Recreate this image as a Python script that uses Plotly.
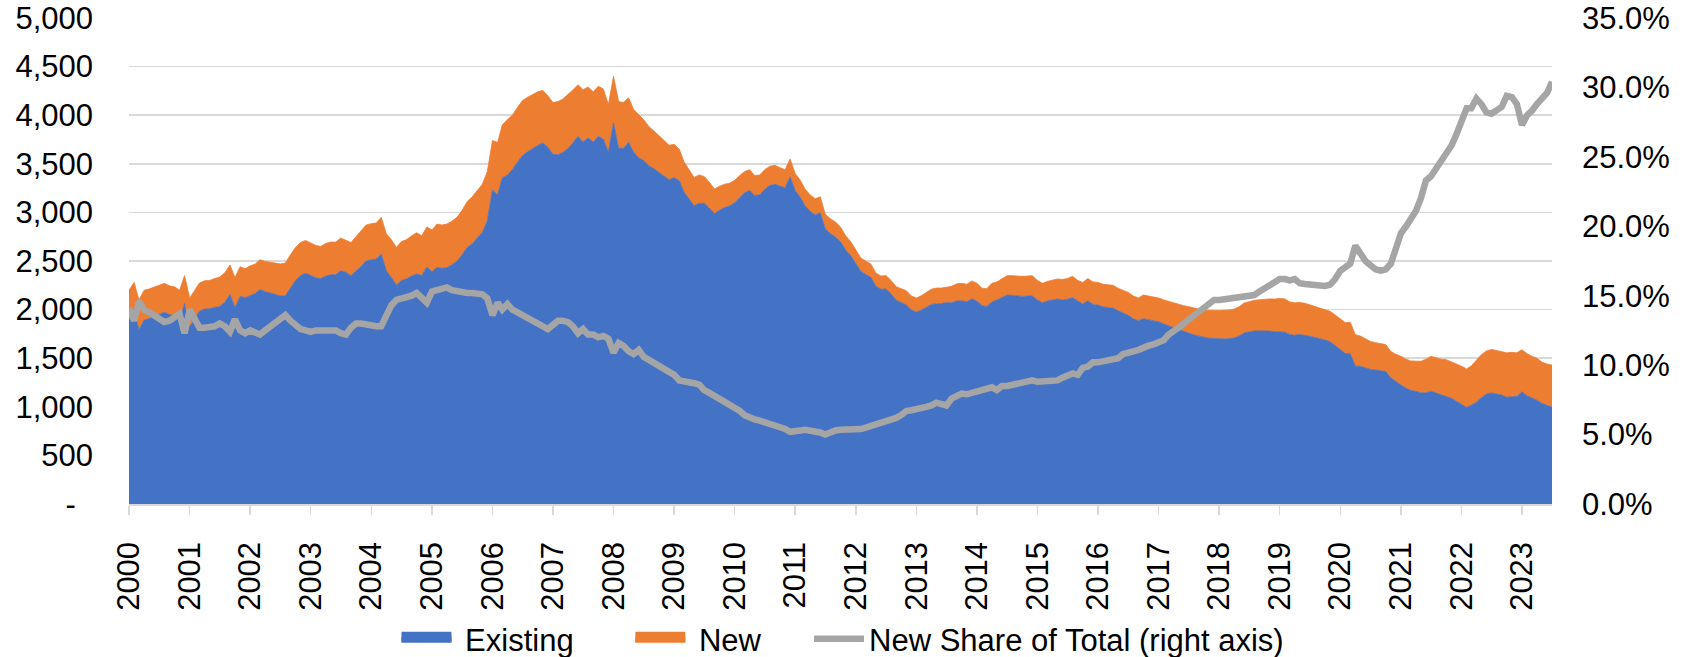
import plotly.graph_objects as go

# Monthly observations, Jan 2000 - Jul 2023 (thousands of homes for sale)
existing = [
    1890, 1979, 1793, 1892, 1907, 1927, 1951, 1973, 1949, 1936, 1899, 2061,
    1823, 1907, 1984, 2005, 2008, 2023, 2031, 2075, 2155, 2020, 2135, 2122,
    2144, 2166, 2206, 2184, 2171, 2157, 2141, 2142, 2226, 2299, 2351, 2373,
    2352, 2327, 2319, 2345, 2358, 2358, 2399, 2384, 2348, 2392, 2445, 2500,
    2512, 2521, 2572, 2399, 2331, 2252, 2300, 2317, 2346, 2366, 2352, 2437,
    2389, 2436, 2425, 2431, 2462, 2499, 2561, 2637, 2680, 2731, 2793, 2914,
    3231, 3181, 3354, 3385, 3440, 3517, 3586, 3624, 3659, 3689, 3715, 3671,
    3597, 3594, 3616, 3658, 3715, 3783, 3725, 3767, 3723, 3781, 3753, 3619,
    3920, 3660, 3659, 3720, 3622, 3560, 3535, 3481, 3448, 3411, 3373, 3336,
    3356, 3325, 3210, 3137, 3068, 3094, 3094, 3045, 2987, 3021, 3050, 3066,
    3100, 3154, 3201, 3226, 3174, 3182, 3237, 3277, 3289, 3270, 3254, 3365,
    3223, 3154, 3067, 3011, 2974, 2997, 2831, 2782, 2746, 2698, 2612, 2556,
    2480, 2393, 2362, 2332, 2241, 2209, 2211, 2162, 2096, 2073, 2048, 1996,
    1975, 1997, 2027, 2053, 2060, 2062, 2072, 2069, 2088, 2090, 2081, 2111,
    2086, 2040, 2033, 2079, 2098, 2123, 2149, 2147, 2142, 2136, 2139, 2140,
    2098, 2070, 2088, 2102, 2109, 2100, 2107, 2122, 2086, 2057, 2090, 2052,
    2047, 2027, 2021, 2016, 1987, 1962, 1941, 1905, 1885, 1907, 1896, 1885,
    1873, 1852, 1831, 1813, 1794, 1775, 1760, 1741, 1727, 1714, 1705, 1702,
    1697, 1699, 1700, 1707, 1729, 1760, 1772, 1780, 1780, 1781, 1779, 1773,
    1772, 1768, 1745, 1735, 1744, 1738, 1726, 1714, 1702, 1686, 1669, 1630,
    1581, 1548, 1546, 1418, 1417, 1402, 1385, 1379, 1373, 1363, 1298, 1257,
    1224, 1192, 1169, 1158, 1145, 1143, 1161, 1141, 1123, 1111, 1087, 1057,
    1028, 994, 1015, 1048, 1094, 1131, 1143, 1133, 1121, 1098, 1103, 1107,
    1154, 1112, 1090, 1068, 1034, 1014, 995,
]

new = [
    310, 301, 307, 308, 305, 303, 299, 297, 296, 299, 301, 289,
    297, 293, 289, 292, 292, 297, 304, 305, 305, 310, 305, 298,
    306, 304, 307, 312, 319, 322, 329, 337, 339, 341, 339, 339,
    333, 333, 331, 335, 337, 337, 337, 331, 342, 358, 365, 370,
    372, 370, 378, 381, 389, 388, 400, 403, 414, 424, 408, 413,
    431, 444, 445, 449, 448, 451, 459, 473, 480, 489, 497, 506,
    509, 539, 546, 569, 560, 563, 564, 561, 556, 551, 540, 529,
    533, 546, 550, 552, 545, 531, 537, 523, 517, 516, 517, 489,
    480, 480, 471, 460, 438, 445, 419, 404, 392, 379, 367, 354,
    344, 325, 310, 303, 292, 291, 276, 265, 253, 249, 240, 234,
    230, 226, 219, 213, 206, 203, 203, 198, 195, 190, 186, 185,
    177, 176, 173, 169, 166, 163, 149, 153, 154, 152, 148, 144,
    140, 137, 138, 138, 135, 136, 139, 138, 139, 142, 147, 144,
    144, 148, 153, 157, 162, 160, 158, 170, 177, 180, 179, 184,
    184, 180, 182, 191, 187, 197, 200, 202, 203, 206, 206, 209,
    202, 200, 202, 203, 206, 210, 213, 220, 214, 223, 230, 233,
    233, 233, 235, 234, 233, 238, 236, 235, 235, 243, 244, 245,
    246, 248, 254, 257, 261, 265, 270, 274, 278, 281, 287, 293,
    293, 294, 295, 298, 301, 308, 313, 315, 322, 327, 331, 335,
    343, 342, 335, 335, 330, 327, 324, 319, 318, 314, 313, 315,
    319, 317, 324, 324, 311, 298, 288, 281, 277, 277, 272, 283,
    296, 298, 303, 310, 323, 347, 358, 364, 367, 374, 378, 383,
    390, 396, 405, 432, 442, 444, 447, 447, 449, 457, 457, 448,
    434, 433, 430, 432, 426, 426, 435,
]

share_pct = [
    14.1, 13.2, 14.6, 14.0, 13.8, 13.6, 13.3, 13.1, 13.2, 13.4, 13.7, 12.3,
    14.0, 13.3, 12.7, 12.7, 12.7, 12.8, 13.0, 12.8, 12.4, 13.3, 12.5, 12.3,
    12.5, 12.3, 12.2, 12.5, 12.8, 13.0, 13.3, 13.6, 13.2, 12.9, 12.6, 12.5,
    12.4, 12.5, 12.5, 12.5, 12.5, 12.5, 12.3, 12.2, 12.7, 13.0, 13.0, 12.9,
    12.9, 12.8, 12.8, 13.7, 14.3, 14.7, 14.8, 14.8, 15.0, 15.2, 14.8, 14.5,
    15.3, 15.4, 15.5, 15.6, 15.4, 15.3, 15.2, 15.2, 15.2, 15.2, 15.1, 14.8,
    13.6, 14.5, 14.0, 14.4, 14.0, 13.8, 13.6, 13.4, 13.2, 13.0, 12.7, 12.6,
    12.9, 13.2, 13.2, 13.1, 12.8, 12.3, 12.6, 12.2, 12.2, 12.0, 12.1, 11.9,
    10.9, 11.6, 11.4, 11.0, 10.8, 11.1, 10.6, 10.4, 10.2, 10.0, 9.8, 9.6,
    9.3, 8.9, 8.8, 8.8, 8.7, 8.6, 8.2, 8.0, 7.8, 7.6, 7.3, 7.1,
    6.9, 6.7, 6.4, 6.2, 6.1, 6.0, 5.9, 5.7, 5.6, 5.5, 5.4, 5.2,
    5.2, 5.3, 5.35, 5.3, 5.3, 5.15, 5.0, 5.2, 5.3, 5.35, 5.35, 5.35,
    5.35, 5.4, 5.5, 5.6, 5.7, 5.8, 5.9, 6.0, 6.2, 6.4, 6.7, 6.75,
    6.8, 6.9, 7.0, 7.1, 7.3, 7.2, 7.1, 7.6, 7.8, 7.95, 7.9, 8.0,
    8.1, 8.1, 8.2, 8.4, 8.2, 8.5, 8.5, 8.6, 8.65, 8.8, 8.8, 8.9,
    8.8, 8.8, 8.8, 8.8, 8.9, 9.1, 9.2, 9.4, 9.3, 9.8, 9.9, 10.2,
    10.2, 10.3, 10.4, 10.4, 10.5, 10.8, 10.85, 11.0, 11.1, 11.3, 11.4, 11.5,
    11.6, 11.8, 12.2, 12.4, 12.7, 13.0, 13.3, 13.6, 13.85, 14.1, 14.4, 14.7,
    14.7, 14.75, 14.8, 14.85, 14.85, 14.9, 15.0, 15.05, 15.3, 15.5, 15.7, 15.9,
    16.2, 16.2, 16.1, 16.2, 15.9, 15.85, 15.8, 15.7, 15.75, 15.7, 15.8, 16.2,
    16.8, 17.0, 17.3, 18.6, 18.0, 17.5, 17.2, 16.9, 16.8, 16.9, 17.3, 18.4,
    19.5, 20.0, 20.6, 21.1, 22.0, 23.3, 23.6, 24.2, 24.6, 25.2, 25.8, 26.6,
    27.5, 28.5, 28.5, 29.2, 28.8, 28.2, 28.1, 28.3, 28.6, 29.4, 29.3, 28.8,
    27.3, 28.0, 28.3, 28.8, 29.2, 29.6, 30.4,
]

months = [f"{2000 + k // 12}-{k % 12 + 1:02d}-01" for k in range(len(existing))]

year_ticks = [f"{y}-01-01" for y in range(2000, 2024)]
year_labels = [str(y) for y in range(2000, 2024)]
left_ticks = [0, 500, 1000, 1500, 2000, 2500, 3000, 3500, 4000, 4500, 5000]
left_labels = ["-\u00a0\u00a0", "500", "1,000", "1,500", "2,000", "2,500",
               "3,000", "3,500", "4,000", "4,500", "5,000"]
right_ticks = [0, 5, 10, 15, 20, 25, 30, 35]
right_labels = ["0.0%", "5.0%", "10.0%", "15.0%", "20.0%", "25.0%", "30.0%", "35.0%"]

BLUE = "#4472C4"
ORANGE = "#ED7D31"
GRAY = "#A5A5A5"
GRID = "#D9D9D9"
NB = "\u00a0"

fig = go.Figure()
fig.add_trace(go.Scatter(x=months, y=existing, stackgroup="s", mode="lines",
                         line=dict(width=0.8, color=BLUE), fillcolor=BLUE,
                         showlegend=False, name="Existing", hoverinfo="skip"))
fig.add_trace(go.Scatter(x=months, y=new, stackgroup="s", mode="lines",
                         line=dict(width=0.8, color=ORANGE), fillcolor=ORANGE,
                         showlegend=False, name="New", hoverinfo="skip"))
# legend swatches
fig.add_trace(go.Scatter(x=[None], y=[None], mode="lines", fill="toself",
                         fillcolor=BLUE, line=dict(color=BLUE, width=16),
                         name=NB + "Existing" + NB * 6))
fig.add_trace(go.Scatter(x=[None], y=[None], mode="lines", fill="toself",
                         fillcolor=ORANGE, line=dict(color=ORANGE, width=16),
                         name=NB + "New" + NB * 5))
fig.add_trace(go.Scatter(x=months, y=share_pct, yaxis="y2", mode="lines",
                         line=dict(color=GRAY, width=6.5),
                         name="New Share of Total (right axis)"))

fig.update_layout(
    width=1688, height=657,
    margin=dict(l=129, r=136, t=18, b=153, autoexpand=False),
    paper_bgcolor="white", plot_bgcolor="white",
    font=dict(family="Arial, 'Liberation Sans', sans-serif", size=31, color="#000000"),
    legend=dict(orientation="h", xref="container", x=0.4994, xanchor="center",
                yref="container", y=0.0274, yanchor="middle",
                itemwidth=50, traceorder="normal", bgcolor="rgba(0,0,0,0)",
                font=dict(size=31)),
    xaxis=dict(type="date", range=[months[0], months[-1]], tickmode="array",
               tickvals=year_ticks, ticktext=year_labels, tickangle=-90,
               showgrid=False, showline=True, linecolor=GRID, linewidth=1.5,
               ticks="outside", ticklen=9, tickcolor=GRID, tickwidth=1.5,
               ticklabelstandoff=15, automargin=False, ticklabeloverflow="allow"),
    yaxis=dict(range=[0, 5000], tickmode="array", tickvals=left_ticks,
               ticktext=left_labels, showgrid=True, gridcolor=GRID, gridwidth=1.5,
               zeroline=False, showline=False, ticks="", ticklabelstandoff=35,
               automargin=False, ticklabeloverflow="allow"),
    yaxis2=dict(range=[0, 35], overlaying="y", side="right", tickmode="array",
                tickvals=right_ticks, ticktext=right_labels, showgrid=False,
                zeroline=False, showline=False, ticks="", ticklabelstandoff=29,
                automargin=False, ticklabeloverflow="allow"),
)

fig.write_html(
    "out.html",
    config={"displayModeBar": False, "staticPlot": True},
    post_script="document.body.style.margin='0';document.body.style.overflow='hidden';",
)
